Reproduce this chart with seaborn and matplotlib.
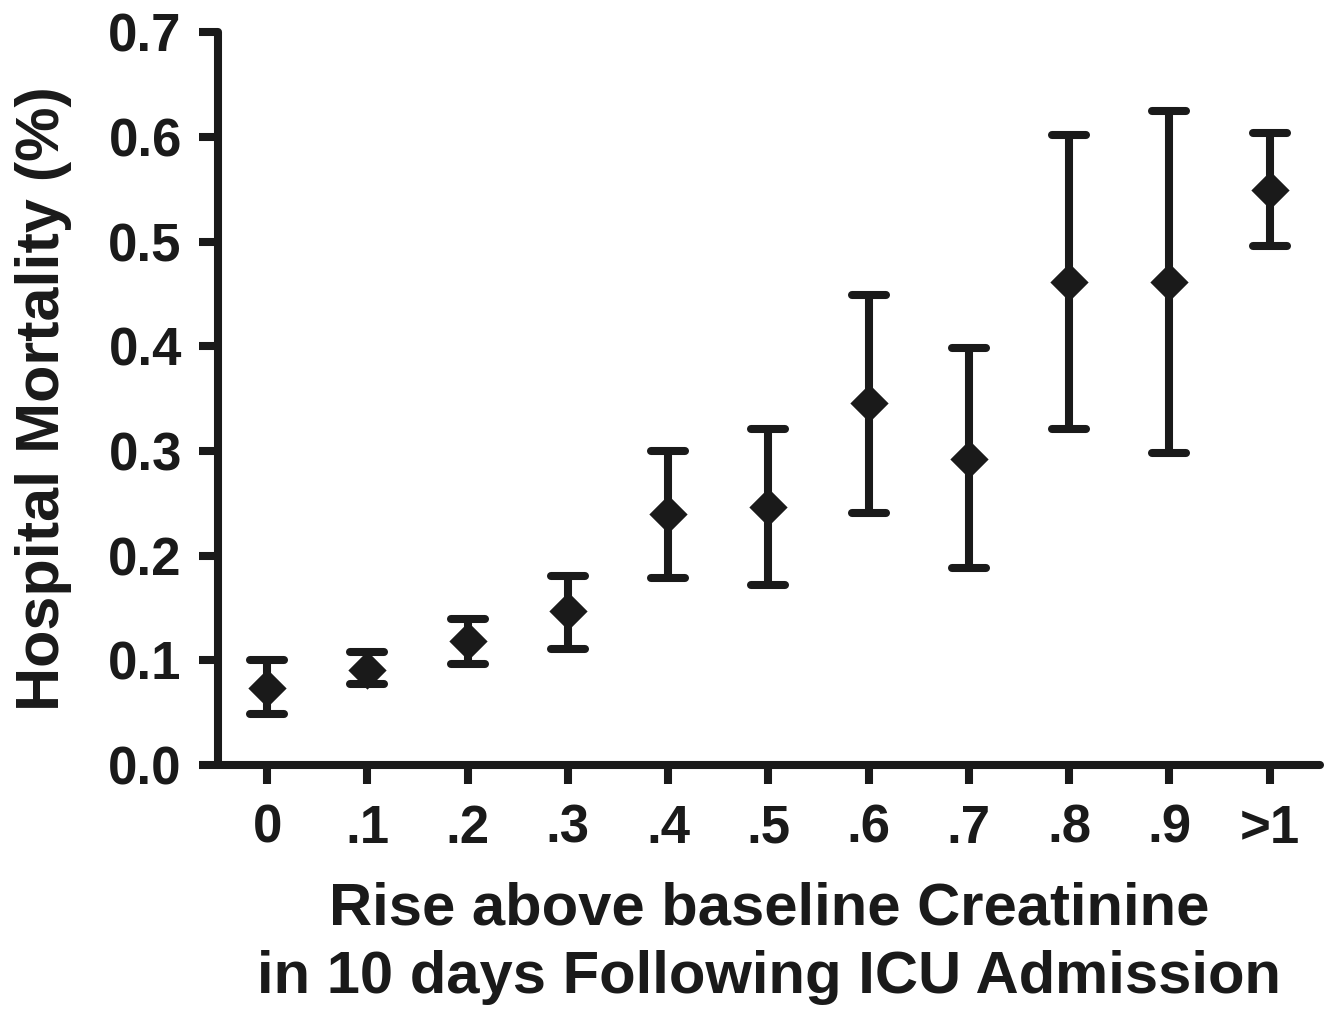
import matplotlib
matplotlib.use("Agg")
import matplotlib.pyplot as plt
from matplotlib.markers import MarkerStyle
import seaborn as sns
import pandas as pd
import numpy as np

categories = ["0", ".1", ".2", ".3", ".4", ".5", ".6", ".7", ".8", ".9", ">1"]
mortality = [0.074, 0.091, 0.118, 0.147, 0.240, 0.246, 0.346, 0.292, 0.461, 0.461, 0.549]
ci_upper = [0.100, 0.108, 0.139, 0.181, 0.300, 0.321, 0.449, 0.398, 0.602, 0.625, 0.604]
ci_lower = [0.049, 0.077, 0.096, 0.111, 0.179, 0.172, 0.241, 0.188, 0.321, 0.298, 0.496]
y_ticks = [0.0, 0.1, 0.2, 0.3, 0.4, 0.5, 0.6, 0.7]

sns.set_theme(style="ticks")
plt.rcParams['font.family'] = ['Liberation Sans', 'DejaVu Sans']
plt.rcParams['font.weight'] = 'bold'

ink = "#1a1a1a"
df = pd.DataFrame({"cat": categories, "pos": np.arange(len(categories)),
                   "m": mortality, "lo": ci_lower, "hi": ci_upper})

fig = plt.figure(figsize=(13.29, 10.10), dpi=100)
ax = fig.add_axes([0.164, 0.2426, 0.829, 0.7254])

yerr = np.vstack([df["m"] - df["lo"], df["hi"] - df["m"]])
_, caplines, barcols = ax.errorbar(df["pos"], df["m"], yerr=yerr, fmt="none",
                                   ecolor=ink, elinewidth=5.8, capsize=12,
                                   capthick=5.8, zorder=2)
for cl in caplines:
    cl.set_marker(MarkerStyle("_", capstyle="round"))
    cl.set_markersize(24)
    cl.set_markeredgewidth(5.8)

sns.scatterplot(data=df, x="pos", y="m", marker="D", s=380, color=ink,
                edgecolor=ink, linewidth=0, ax=ax, zorder=3, legend=False)

ax.set_xlim(-0.49, 10.5)
ax.set_ylim(0.0, 0.7)
ax.set_xticks(df["pos"])
ax.set_xticklabels(categories)
ax.set_yticks(y_ticks)
ax.set_yticklabels([f"{t:.1f}" for t in y_ticks])

for s in ["top", "right"]:
    ax.spines[s].set_visible(False)
for s in ["left", "bottom"]:
    ax.spines[s].set_linewidth(5.8)
    ax.spines[s].set_color(ink)
    ax.spines[s].set_capstyle("round")

ax.tick_params(axis="both", length=14, width=5.8, color=ink, labelsize=38,
               labelcolor=ink)
ax.tick_params(axis="y", pad=12)
ax.tick_params(axis="x", pad=14)
for lab in ax.get_xticklabels() + ax.get_yticklabels():
    lab.set_fontweight("bold")

ax.set_ylabel("Hospital Mortality (%)", fontsize=44, fontweight="bold",
              color=ink, labelpad=26)
ax.set_xlabel("Rise above baseline Creatinine\nin 10 days Following ICU Admission",
              fontsize=43, fontweight="bold", color=ink, labelpad=20,
              linespacing=1.32)

fig.savefig("out.png", dpi=100, facecolor="white")
